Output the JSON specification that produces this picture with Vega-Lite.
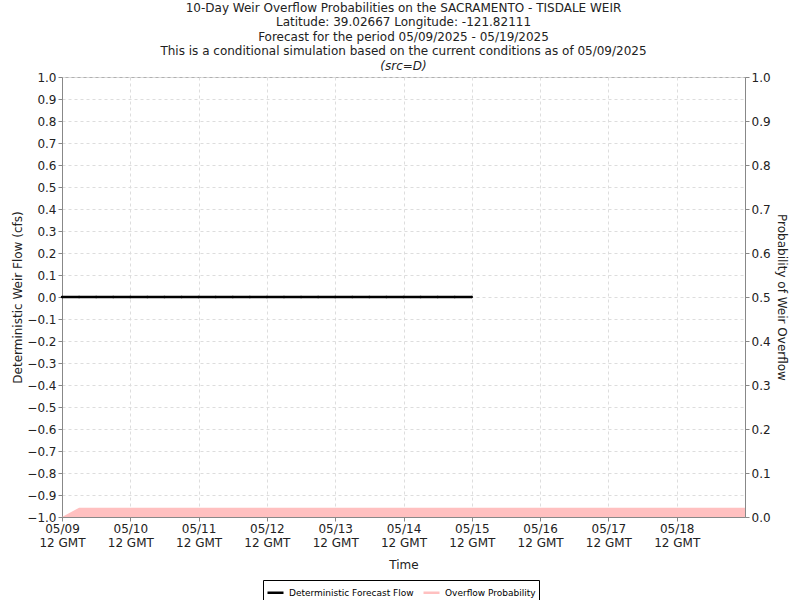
{
  "$schema": "https://vega.github.io/schema/vega-lite/v6.json",
  "autosize": {"type": "none"},
  "width": 683,
  "height": 440,
  "padding": {"left": 62, "top": 77, "right": 55, "bottom": 83},
  "background": "white",
  "config": {
    "font": "DejaVu Sans",
    "view": {"stroke": "#b0b0b0", "strokeWidth": 1},
    "axis": {
      "labelFont": "DejaVu Sans",
      "titleFont": "DejaVu Sans",
      "labelFontSize": 12,
      "titleFontSize": 12,
      "titleFontWeight": "normal",
      "labelColor": "#222",
      "titleColor": "#222",
      "domainColor": "#888",
      "tickColor": "#888",
      "gridColor": "#dddddd",
      "gridDash": [3, 3]
    }
  },
  "title": {
    "text": [
      "10-Day Weir Overflow Probabilities on the SACRAMENTO - TISDALE WEIR",
      "Latitude: 39.02667 Longitude: -121.82111",
      "Forecast for the period 05/09/2025 - 05/19/2025",
      "This is a conditional simulation based on the current conditions as of 05/09/2025"
    ],
    "subtitle": "(src=D)",
    "subtitleFontStyle": "italic",
    "subtitleFontSize": 12,
    "subtitleColor": "#222",
    "subtitlePadding": 3,
    "font": "DejaVu Sans",
    "subtitleFont": "DejaVu Sans",
    "fontSize": 12,
    "fontWeight": "normal",
    "color": "#222",
    "lineHeight": 14.3,
    "anchor": "middle",
    "offset": -2
  },
  "datasets": {
    "flow": [
      {"time": "2025-05-09T12:00:00Z", "flow": 0},
      {"time": "2025-05-09T18:00:00Z", "flow": 0},
      {"time": "2025-05-10T00:00:00Z", "flow": 0},
      {"time": "2025-05-10T06:00:00Z", "flow": 0},
      {"time": "2025-05-10T12:00:00Z", "flow": 0},
      {"time": "2025-05-10T18:00:00Z", "flow": 0},
      {"time": "2025-05-11T00:00:00Z", "flow": 0},
      {"time": "2025-05-11T06:00:00Z", "flow": 0},
      {"time": "2025-05-11T12:00:00Z", "flow": 0},
      {"time": "2025-05-11T18:00:00Z", "flow": 0},
      {"time": "2025-05-12T00:00:00Z", "flow": 0},
      {"time": "2025-05-12T06:00:00Z", "flow": 0},
      {"time": "2025-05-12T12:00:00Z", "flow": 0},
      {"time": "2025-05-12T18:00:00Z", "flow": 0},
      {"time": "2025-05-13T00:00:00Z", "flow": 0},
      {"time": "2025-05-13T06:00:00Z", "flow": 0},
      {"time": "2025-05-13T12:00:00Z", "flow": 0},
      {"time": "2025-05-13T18:00:00Z", "flow": 0},
      {"time": "2025-05-14T00:00:00Z", "flow": 0},
      {"time": "2025-05-14T06:00:00Z", "flow": 0},
      {"time": "2025-05-14T12:00:00Z", "flow": 0},
      {"time": "2025-05-14T18:00:00Z", "flow": 0},
      {"time": "2025-05-15T00:00:00Z", "flow": 0},
      {"time": "2025-05-15T06:00:00Z", "flow": 0},
      {"time": "2025-05-15T12:00:00Z", "flow": 0}
    ],
    "prob": [
      {"time": "2025-05-09T12:00:00Z", "prob": 0},
      {"time": "2025-05-09T18:00:00Z", "prob": 0.021},
      {"time": "2025-05-10T12:00:00Z", "prob": 0.021},
      {"time": "2025-05-11T12:00:00Z", "prob": 0.021},
      {"time": "2025-05-12T12:00:00Z", "prob": 0.021},
      {"time": "2025-05-13T12:00:00Z", "prob": 0.021},
      {"time": "2025-05-14T12:00:00Z", "prob": 0.021},
      {"time": "2025-05-15T12:00:00Z", "prob": 0.021},
      {"time": "2025-05-16T12:00:00Z", "prob": 0.021},
      {"time": "2025-05-17T12:00:00Z", "prob": 0.021},
      {"time": "2025-05-18T12:00:00Z", "prob": 0.021},
      {"time": "2025-05-19T12:00:00Z", "prob": 0.021}
    ]
  },
  "encoding": {
    "x": {
      "field": "time",
      "type": "temporal",
      "scale": {"type": "utc", "domain": [1746792000000, 1747656000000], "nice": false},
      "axis": {
        "title": "Time",
        "values": [1746792000000, 1746878400000, 1746964800000, 1747051200000, 1747137600000, 1747224000000, 1747310400000, 1747396800000, 1747483200000, 1747569600000],
        "labelExpr": "[utcFormat(datum.value, '%m/%d'), '12 GMT']",
        "labelAlign": "center",
        "labelFlush": false,
        "labelOverlap": false,
        "labelPadding": 2,
        "titlePadding": 11,
        "tickSize": 4
      }
    }
  },
  "layer": [
    {
      "data": {"name": "prob"},
      "mark": {"type": "area", "color": "#ffc8c8", "opacity": 1},
      "encoding": {
        "y": {
          "field": "prob",
          "type": "quantitative",
          "scale": {"domain": [0, 1], "nice": false},
          "axis": {
            "orient": "right",
            "title": "Probability of Weir Overflow",
            "values": [0, 0.1, 0.2, 0.3, 0.4, 0.5, 0.6, 0.7, 0.8, 0.9, 1.0],
            "format": ".1f",
            "grid": false,
            "tickSize": 4,
            "titlePadding": 4
          }
        },
        "color": {
          "datum": "Overflow Probability",
          "type": "nominal",
          "scale": {"domain": ["Deterministic Forecast Flow", "Overflow Probability"], "range": ["#000000", "#ffc0c0"]},
          "legend": {
            "title": null,
            "orient": "none",
            "legendX": 201,
            "legendY": 503,
            "direction": "horizontal",
            "strokeColor": "#000",
            "padding": 3,
            "labelFontSize": 9,
            "labelFont": "DejaVu Sans",
            "labelColor": "#000",
            "labelOffset": 4,
            "symbolType": "stroke",
            "symbolStrokeWidth": 2.5,
            "symbolSize": 256,
            "columnPadding": 4
          }
        }
      }
    },
    {
      "data": {"name": "flow"},
      "mark": {"type": "line", "color": "#000", "strokeWidth": 2.5, "point": {"filled": true, "size": 6, "color": "#000"}},
      "encoding": {
        "y": {
          "field": "flow",
          "type": "quantitative",
          "scale": {"domain": [-1, 1], "nice": false},
          "axis": {
            "orient": "left",
            "title": "Deterministic Weir Flow (cfs)",
            "values": [-1, -0.9, -0.8, -0.7, -0.6, -0.5, -0.4, -0.3, -0.2, -0.1, 0, 0.1, 0.2, 0.3, 0.4, 0.5, 0.6, 0.7, 0.8, 0.9, 1.0],
            "format": ".1f",
            "grid": true,
            "tickSize": 4,
            "titlePadding": 2
          }
        },
        "color": {"datum": "Deterministic Forecast Flow", "type": "nominal"}
      }
    }
  ],
  "resolve": {"scale": {"y": "independent"}}
}
